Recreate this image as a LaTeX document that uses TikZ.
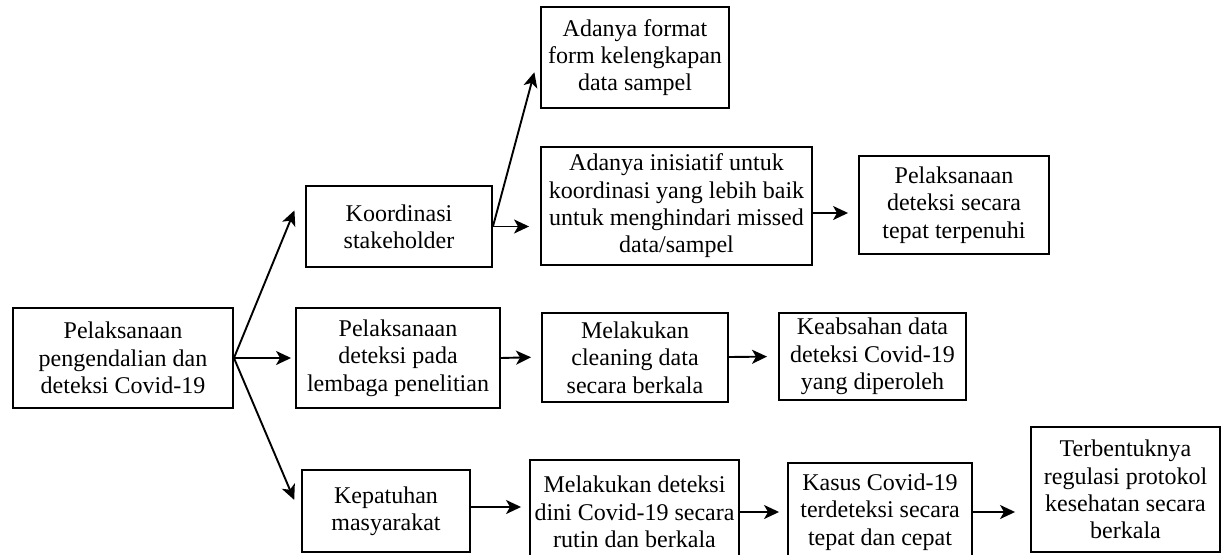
\documentclass[tikz,border=0pt]{standalone}
\usepackage{fontspec}
\setmainfont{Liberation Serif}
\usetikzlibrary{arrows.meta}
\begin{document}
\begin{tikzpicture}[x=1pt,y=-1pt,
  box/.style={draw, line width=1.9pt, inner sep=0pt, align=center,
    font=\fontsize{24}{27.3}\selectfont},
  arr/.style={line width=1.9pt, -{Stealth[length=15pt,width=14pt,inset=4pt]}}]
\useasboundingbox (0,0) rectangle (1223,554);
\clip (0,0) rectangle (1223,554);
\node[box, minimum width=220pt, minimum height=100pt] (root) at (123,358) {Pelaksanaan\\pengendalian dan\\deteksi Covid-19};
\node[box, minimum width=186pt, minimum height=81pt] (koord) at (399,226.5) {Koordinasi\\stakeholder};
\node[box, minimum width=204pt, minimum height=100pt] (pada) at (398,358) {Pelaksanaan\\deteksi pada\\lembaga penelitian};
\node[box, minimum width=168pt, minimum height=82pt] (kep) at (386,511) {Kepatuhan\\masyarakat};
\node[box, minimum width=188pt, minimum height=101pt] (format) at (635,57.5) {Adanya format\\form kelengkapan\\data sampel};
\node[box, minimum width=271pt, minimum height=118pt] (ini) at (676.5,206) {Adanya inisiatif untuk\\koordinasi yang lebih baik\\untuk menghindari missed\\data/sampel};
\node[box, minimum width=190pt, minimum height=98pt] (tepat) at (954,205) {Pelaksanaan\\deteksi secara\\tepat terpenuhi};
\node[box, minimum width=186pt, minimum height=89pt] (clean) at (635,357.5) {Melakukan\\cleaning data\\secara berkala};
\node[box, minimum width=187pt, minimum height=87pt] (keab) at (872.5,356.5) {Keabsahan data\\deteksi Covid-19\\yang diperoleh};
\node[box, minimum width=209pt, minimum height=104pt] (dini) at (634.5,512) {Melakukan deteksi\\dini Covid-19 secara\\rutin dan berkala};
\node[box, minimum width=184pt, minimum height=98pt] (kasus) at (880,512) {Kasus Covid-19\\terdeteksi secara\\tepat dan cepat};
\node[box, minimum width=189pt, minimum height=125pt] (terb) at (1125.5,489.5) {Terbentuknya\\regulasi protokol\\kesehatan secara\\berkala};

\draw[arr, shorten >=28pt] (root.east) -- ([yshift=42pt]koord.west);
\draw[arr, shorten >=4pt] (root.east) -- (pada.west);
\draw[arr, shorten >=17.5pt] (root.east) -- ([yshift=-5pt]kep.west);
\draw[arr, shorten >=22pt] (koord.east) -- ([yshift=6.5pt]format.west);
\draw[arr, shorten >=11pt] (koord.east) -- ([yshift=-20.5pt]ini.west);
\draw[arr, shorten >=10pt] ([yshift=-7pt]ini.east) -- ([yshift=-8pt]tepat.west);
\draw[arr, shorten >=10pt] (pada.east) -- ([yshift=0.5pt]clean.west);
\draw[arr, shorten >=11pt] ([yshift=0.5pt]clean.east) -- (keab.west);
\draw[arr, shorten >=8pt] ([yshift=4pt]kep.east) -- ([yshift=5pt]dini.west);
\draw[arr, shorten >=8pt] (dini.east) -- (kasus.west);
\draw[arr, shorten >=15pt] (kasus.east) -- ([yshift=-22.5pt]terb.west);
\end{tikzpicture}
\end{document}
